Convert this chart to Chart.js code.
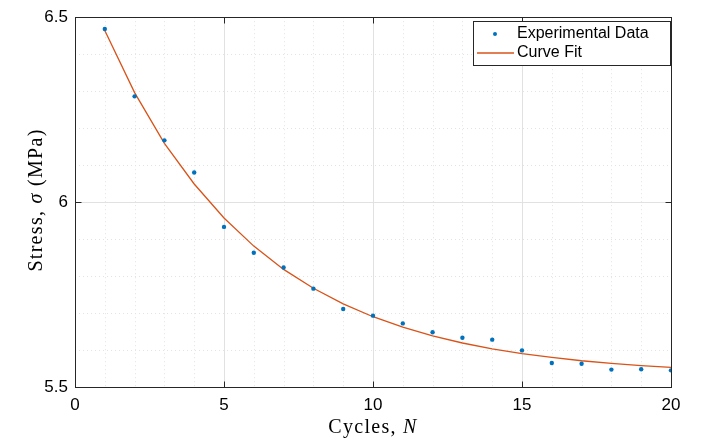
<!DOCTYPE html>
<html>
<head>
<meta charset="utf-8">
<script src="https://cdn.jsdelivr.net/npm/chart.js@4"></script>
<style>
html,body{margin:0;padding:0;background:#fff;}
#wrap{width:707px;height:443px;position:relative;}
</style>
</head>
<body>
<div id="wrap"><canvas id="c" width="707" height="443"></canvas></div>
<script>
const cycles = [1,2,3,4,5,6,7,8,9,10,11,12,13,14,15,16,17,18,19,20];
const stressData = [6.468,6.286,6.167,6.080,5.933,5.863,5.823,5.766,5.711,5.693,5.672,5.648,5.633,5.628,5.599,5.565,5.563,5.547,5.548,5.545];
const fitData = [6.464,6.296,6.159,6.049,5.957,5.881,5.818,5.767,5.725,5.690,5.662,5.638,5.619,5.603,5.590,5.580,5.571,5.564,5.558,5.553];
const xTickValues = [0,5,10,15,20];
const yTickValues = [5.5,6,6.5];
const seriesNames = ['Experimental Data','Curve Fit'];

const BLUE = '#0072BD', ORANGE = '#D95319', AX = '#262626';
const SANS = '"Liberation Sans", Arial, Helvetica, sans-serif';
const SERIF = '"Liberation Serif", "DejaVu Serif", serif';

const decor = {
  id: 'decor',
  beforeDatasetsDraw(chart) {
    const {ctx, chartArea: a, scales: {x, y}} = chart;
    ctx.save();
    ctx.lineWidth = 1;
    ctx.strokeStyle = '#e3e3e3';
    ctx.setLineDash([1, 3]);
    for (let v = 1; v < 20; v++) {
      if (v % 5 === 0) continue;
      const px = Math.round(x.getPixelForValue(v)) + 0.5;
      ctx.beginPath(); ctx.moveTo(px, a.top); ctx.lineTo(px, a.bottom); ctx.stroke();
    }
    for (let k = 1; k < 10; k++) {
      if (k === 5) continue;
      const py = Math.round(y.getPixelForValue(5.5 + k * 0.1)) + 0.5;
      ctx.beginPath(); ctx.moveTo(a.left, py); ctx.lineTo(a.right, py); ctx.stroke();
    }
    ctx.setLineDash([]);
    ctx.strokeStyle = '#e1e1e1';
    xTickValues.slice(1, -1).forEach(v => {
      const px = Math.round(x.getPixelForValue(v)) + 0.5;
      ctx.beginPath(); ctx.moveTo(px, a.top); ctx.lineTo(px, a.bottom); ctx.stroke();
    });
    yTickValues.slice(1, -1).forEach(v => {
      const py = Math.round(y.getPixelForValue(v)) + 0.5;
      ctx.beginPath(); ctx.moveTo(a.left, py); ctx.lineTo(a.right, py); ctx.stroke();
    });
    ctx.restore();
  },
  afterDraw(chart) {
    const {ctx, chartArea: a, scales: {x, y}} = chart;
    ctx.save();
    ctx.strokeStyle = AX;
    ctx.lineWidth = 1;
    const L = Math.round(a.left) + 0.5, R = Math.round(a.right) + 0.5;
    const T = Math.round(a.top) + 0.5, B = Math.round(a.bottom) + 0.5;
    ctx.strokeRect(L, T, R - L, B - T);
    const tl = 6;
    ctx.beginPath();
    xTickValues.forEach(v => {
      const px = Math.round(x.getPixelForValue(v)) + 0.5;
      ctx.moveTo(px, B); ctx.lineTo(px, B - tl);
      ctx.moveTo(px, T); ctx.lineTo(px, T + tl);
    });
    yTickValues.forEach(v => {
      const py = Math.round(y.getPixelForValue(v)) + 0.5;
      ctx.moveTo(L, py); ctx.lineTo(L + tl, py);
      ctx.moveTo(R, py); ctx.lineTo(R - tl, py);
    });
    ctx.stroke();

    // legend
    const lx = 473.5, ly = 21.5, lw = 197, lh = 44;
    ctx.fillStyle = '#fff';
    ctx.fillRect(lx, ly, lw, lh);
    ctx.strokeStyle = AX;
    ctx.strokeRect(lx, ly, lw, lh);
    ctx.font = '16px ' + SANS;
    ctx.fillStyle = '#000';
    ctx.textBaseline = 'middle';
    ctx.textAlign = 'left';
    ctx.fillText(seriesNames[0], 517, 34);
    ctx.fillText(seriesNames[1], 517, 53);
    ctx.fillStyle = BLUE;
    ctx.beginPath(); ctx.arc(495, 34, 2, 0, Math.PI * 2); ctx.fill();
    ctx.strokeStyle = ORANGE; ctx.lineWidth = 1.3;
    ctx.beginPath(); ctx.moveTo(477, 53); ctx.lineTo(514, 53); ctx.stroke();

    // axis titles (mixed italic)
    ctx.fillStyle = '#000';
    ctx.textBaseline = 'alphabetic';
    try { ctx.letterSpacing = '1.3px'; } catch (e) {}
    const drawParts = (parts, cx, cy) => {
      let w = 0;
      parts.forEach(p => { ctx.font = p[1] + ' 20px ' + SERIF; w += ctx.measureText(p[0]).width; });
      let xx = cx - w / 2;
      parts.forEach(p => { ctx.font = p[1] + ' 20px ' + SERIF; ctx.fillText(p[0], xx, cy); xx += ctx.measureText(p[0]).width; });
    };
    drawParts([['Cycles, ', 'normal'], ['N', 'italic']], (a.left + a.right) / 2, 433);
    ctx.translate(42, 200);
    ctx.rotate(-Math.PI / 2);
    drawParts([['Stress, ', 'normal'], ['\u03C3', 'italic'], [' (MPa)', 'normal']], 0, 0);
    ctx.restore();
  }
};

new Chart(document.getElementById('c'), {
  type: 'line',
  data: {
    datasets: [
      {
        label: seriesNames[0],
        data: cycles.map((c, i) => ({x: c, y: stressData[i]})),
        showLine: false,
        pointRadius: 2.2,
        pointBackgroundColor: BLUE,
        pointBorderWidth: 0,
        borderColor: BLUE,
        backgroundColor: BLUE,
        order: 1
      },
      {
        label: seriesNames[1],
        data: cycles.map((c, i) => ({x: c, y: fitData[i]})),
        borderColor: ORANGE,
        borderWidth: 1.3,
        pointRadius: 0,
        tension: 0,
        fill: false,
        order: 2
      }
    ]
  },
  options: {
    responsive: false,
    animation: false,
    layout: {padding: {top: 13, right: 36, left: 0, bottom: 0}},
    plugins: {legend: {display: false}, tooltip: {enabled: false}},
    scales: {
      x: {
        type: 'linear', min: 0, max: 20,
        afterBuildTicks: s => { s.ticks = xTickValues.map(v => ({value: v})); },
        ticks: {font: {family: SANS, size: 17}, color: '#000', padding: 8, maxRotation: 0, callback: v => String(v)},
        grid: {display: false, drawTicks: false},
        border: {display: false},
        afterFit: s => { s.height = 56; }
      },
      y: {
        type: 'linear', min: 5.5, max: 6.5,
        afterBuildTicks: s => { s.ticks = yTickValues.map(v => ({value: v})); },
        ticks: {font: {family: SANS, size: 17}, color: '#000', padding: 7, callback: v => String(v)},
        grid: {display: false, drawTicks: false},
        border: {display: false},
        afterFit: s => { s.width = 75; }
      }
    }
  },
  plugins: [decor]
});
</script>
</body>
</html>
